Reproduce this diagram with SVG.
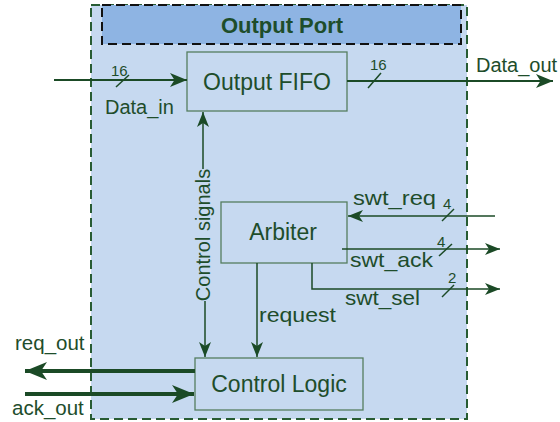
<svg xmlns="http://www.w3.org/2000/svg" width="560" height="422" viewBox="0 0 560 422">
  <style>
    .lbl { font-family: "Liberation Sans", Arial, sans-serif; fill: #1e4d2b; }
    .box { fill: none; stroke: #557d5f; stroke-width: 1.3; }
    .wire { fill: none; stroke: #1b4a26; stroke-width: 1.5; }
    .bus { fill: none; stroke: #1b4a26; stroke-width: 2.2; }
    .thick { fill: none; stroke: #1b4a26; stroke-width: 4; }
    .tick { fill: none; stroke: #1b4a26; stroke-width: 1.5; }
  </style>
  <defs>
    <marker id="ah" markerUnits="userSpaceOnUse" viewBox="0 0 15 12" refX="15" refY="6" markerWidth="15" markerHeight="12" orient="auto">
      <path d="M0,0 L15,6 L0,12 L4,6 z" fill="#1b4a26"/>
    </marker>
    <marker id="ahBus" markerUnits="userSpaceOnUse" viewBox="0 0 17 14" refX="17" refY="7" markerWidth="17" markerHeight="14" orient="auto">
      <path d="M0,0 L17,7 L0,14 L4.5,7 z" fill="#1b4a26"/>
    </marker>
    <marker id="ahBig" markerUnits="userSpaceOnUse" viewBox="0 0 22 18" refX="22" refY="9" markerWidth="22" markerHeight="18" orient="auto">
      <path d="M0,0 L22,9 L0,18 L6,9 z" fill="#1b4a26"/>
    </marker>
  </defs>

  <!-- Output port enclosure -->
  <g id="output-port">
    <rect x="91" y="5" width="376" height="414" fill="#c6d9f0" stroke="#285c33" stroke-width="2" stroke-dasharray="9,5"/>
    <rect x="102" y="5" width="359" height="39" fill="#8eb4e3" stroke="#111" stroke-width="2" stroke-dasharray="9,5"/>
    <text class="lbl" x="282" y="33" font-size="22" font-weight="bold" text-anchor="middle">Output Port</text>
  </g>

  <g id="output-fifo">
    <rect class="box" x="187" y="52" width="160" height="59"/>
    <text class="lbl" x="267" y="90" font-size="23" text-anchor="middle">Output FIFO</text>
  </g>

  <g id="arbiter">
    <rect class="box" x="221" y="202" width="126" height="61"/>
    <text class="lbl" x="283" y="240" font-size="23" text-anchor="middle">Arbiter</text>
  </g>

  <g id="control-logic">
    <rect class="box" x="195" y="358" width="168" height="52"/>
    <text class="lbl" x="279" y="392" font-size="23" text-anchor="middle">Control Logic</text>
  </g>

  <!-- Connectors -->
  <g id="connectors">
    <!-- data path -->
    <line class="bus" x1="54" y1="80" x2="187" y2="80" marker-end="url(#ahBus)"/>
    <line class="tick" x1="116" y1="87" x2="129" y2="75"/>
    <line class="bus" x1="347" y1="81" x2="553" y2="81" marker-end="url(#ahBus)"/>
    <line class="tick" x1="368" y1="88" x2="381" y2="73"/>

    <!-- control signals (bidirectional) -->
    <line class="wire" x1="203" y1="169" x2="203" y2="112" marker-end="url(#ah)"/>
    <line class="wire" x1="205" y1="301" x2="205" y2="357" marker-end="url(#ah)"/>

    <!-- switch handshake -->
    <line class="wire" x1="495" y1="216" x2="348" y2="216" marker-end="url(#ah)"/>
    <line class="tick" x1="442" y1="221" x2="454" y2="209"/>
    <line class="wire" x1="342" y1="249" x2="500" y2="249" marker-end="url(#ah)"/>
    <line class="tick" x1="439" y1="256" x2="452" y2="244"/>
    <path class="wire" d="M312,263 V289 H500" marker-end="url(#ah)"/>
    <line class="tick" x1="442" y1="297" x2="454" y2="285"/>

    <!-- request -->
    <line class="wire" x1="257" y1="263" x2="257" y2="357" marker-end="url(#ah)"/>

    <!-- external req/ack -->
    <line class="thick" x1="195" y1="371" x2="25" y2="371" marker-end="url(#ahBig)"/>
    <line class="thick" x1="25" y1="394" x2="194" y2="394" marker-end="url(#ahBig)"/>
  </g>

  <!-- Signal labels -->
  <g id="labels">
    <text class="lbl" x="111" y="76" font-size="15">16</text>
    <text class="lbl" x="105" y="114" font-size="20">Data_in</text>
    <text class="lbl" x="370" y="70" font-size="15">16</text>
    <text class="lbl" x="476" y="72" font-size="20">Data_out</text>
    <text class="lbl" x="0" y="0" font-size="20" text-anchor="middle" transform="translate(210,235) rotate(-90)">Control signals</text>
    <text class="lbl" x="353" y="205" font-size="21" textLength="83" lengthAdjust="spacingAndGlyphs">swt_req</text>
    <text class="lbl" x="443" y="209" font-size="15">4</text>
    <text class="lbl" x="350" y="267" font-size="21" textLength="83" lengthAdjust="spacingAndGlyphs">swt_ack</text>
    <text class="lbl" x="437" y="247" font-size="15">4</text>
    <text class="lbl" x="345" y="305" font-size="21" textLength="75" lengthAdjust="spacingAndGlyphs">swt_sel</text>
    <text class="lbl" x="448" y="283" font-size="15">2</text>
    <text class="lbl" x="259" y="322" font-size="21" textLength="77" lengthAdjust="spacingAndGlyphs">request</text>
    <text class="lbl" x="15" y="350" font-size="20.5">req_out</text>
    <text class="lbl" x="12" y="415" font-size="20.5">ack_out</text>
  </g>
</svg>
